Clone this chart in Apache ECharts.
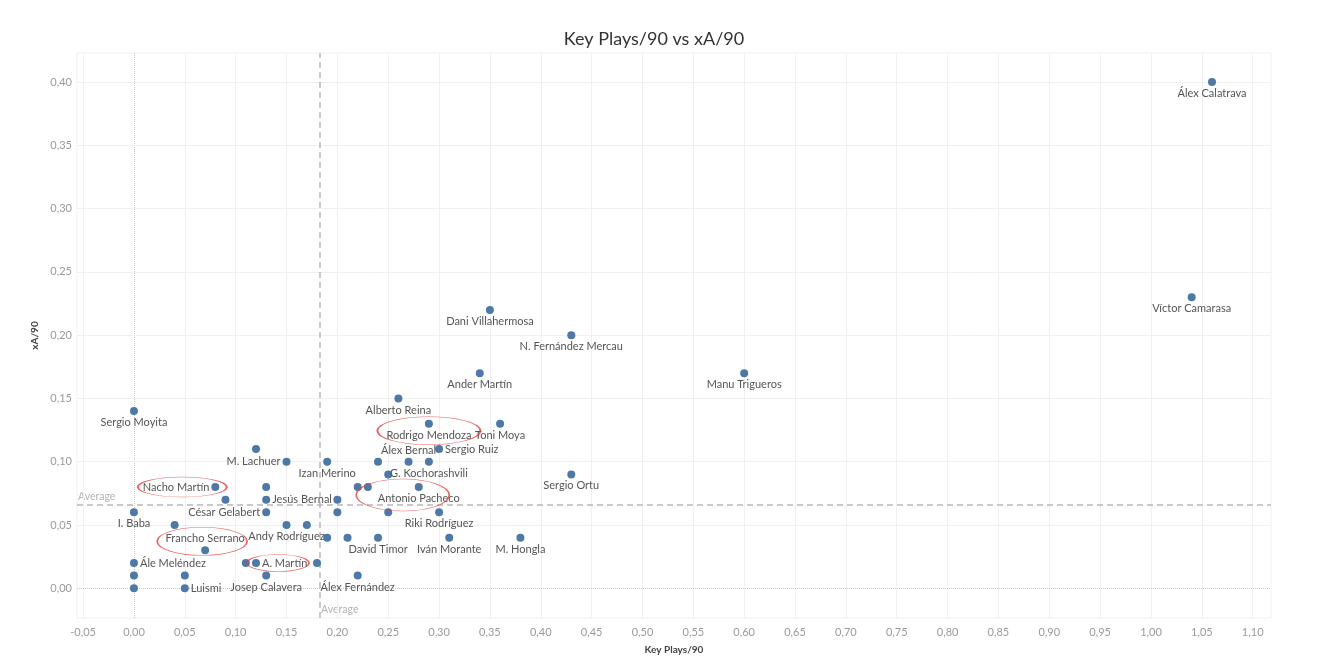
<!DOCTYPE html>
<html><head><meta charset="utf-8">
<script src="https://cdn.jsdelivr.net/npm/echarts@6/dist/echarts.min.js"></script>
<style>html,body{margin:0;padding:0;background:#fff}#c{width:1326px;height:662px}</style>
</head><body><div id="c"></div>
<script>
// ---------- DATA ----------
const players = [
  'Álex Calatrava','Víctor Camarasa','Dani Villahermosa','N. Fernández Mercau','Ander Martín',
  'Manu Trigueros','Alberto Reina','Sergio Moyita','Rodrigo Mendoza','Toni Moya',
  'Sergio Ruiz','','M. Lachuer','Izan Merino','',
  'Álex Bernal','G. Kochorashvili','','Sergio Ortu','Nacho Martín',
  '','','','Antonio Pacheco','',
  'Jesús Bernal','','I. Baba','César Gelabert','',
  '','Riki Rodríguez','','Andy Rodríguez','',
  'Francho Serrano','','','David Timor','Iván Morante',
  'M. Hongla','Ále Meléndez','','A. Martín','',
  '','','Josep Calavera','Álex Fernández','',
  'Luismi'
];
const keyPlays90 = [
  1.06, 1.04, 0.35, 0.43, 0.34,
  0.60, 0.26, 0.00, 0.29, 0.36,
  0.30, 0.12, 0.15, 0.19, 0.24,
  0.27, 0.29, 0.25, 0.43, 0.08,
  0.13, 0.22, 0.23, 0.28, 0.09,
  0.13, 0.20, 0.00, 0.13, 0.20,
  0.25, 0.30, 0.04, 0.15, 0.17,
  0.07, 0.19, 0.21, 0.24, 0.31,
  0.38, 0.00, 0.11, 0.12, 0.18,
  0.00, 0.05, 0.13, 0.22, 0.00,
  0.05
];
const xA90 = [
  0.40, 0.23, 0.22, 0.20, 0.17,
  0.17, 0.15, 0.14, 0.13, 0.13,
  0.11, 0.11, 0.10, 0.10, 0.10,
  0.10, 0.10, 0.09, 0.09, 0.08,
  0.08, 0.08, 0.08, 0.08, 0.07,
  0.07, 0.07, 0.06, 0.06, 0.06,
  0.06, 0.06, 0.05, 0.05, 0.05,
  0.03, 0.04, 0.04, 0.04, 0.04,
  0.04, 0.02, 0.02, 0.02, 0.02,
  0.01, 0.01, 0.01, 0.01, 0.00,
  0.00
];
const xTicks = [-0.05, 0.00, 0.05, 0.10, 0.15, 0.20, 0.25, 0.30, 0.35, 0.40, 0.45, 0.50,
  0.55, 0.60, 0.65, 0.70, 0.75, 0.80, 0.85, 0.90, 0.95, 1.00, 1.05, 1.10];
const yTicks = [0.00, 0.05, 0.10, 0.15, 0.20, 0.25, 0.30, 0.35, 0.40];
const avgKeyPlays90 = 0.183;
const avgXA90 = 0.066;
const highlighted = ['Nacho Martín', 'Francho Serrano', 'A. Martín', 'Rodrigo Mendoza', 'Antonio Pacheco'];

// ---------- STYLE ----------
const X_MIN = -0.056, X_MAX = 1.118, Y_MIN = -0.0235, Y_MAX = 0.423;
const FONT = 'Lato';
const labelPlace = {
  'Sergio Ruiz': {position: 'right'}, 'Ále Meléndez': {position: 'right'},
  'A. Martín': {position: 'right'}, 'Luismi': {position: 'right'},
  'Jesús Bernal': {position: 'right'},
  'M. Lachuer': {position: 'left'}, 'César Gelabert': {position: 'left'},
  'Nacho Martín': {position: 'left'},
  'Álex Bernal': {position: 'top'}, 'Francho Serrano': {position: 'top'},
  'Antonio Pacheco': {position: 'bottom', offset: [-13, 0]},
  'G. Kochorashvili': {position: 'bottom', offset: [16, 0]}
};
const ellipseStyle = {
  'Nacho Martín': {size: [89, 20], offset: [-33, 0]},
  'Francho Serrano': {size: [90, 28], offset: [-3, -9]},
  'A. Martín': {size: [62, 17], offset: [22, 0]},
  'Rodrigo Mendoza': {size: [103, 28], offset: [0, 7]},
  'Antonio Pacheco': {size: [93, 32], offset: [-16, 8]}
};
const fmt = v => v.toFixed(2).replace('.', ',');

const pointData = players.map((n, i) => {
  const p = labelPlace[n] || {position: 'bottom'};
  return {
    name: n,
    value: [keyPlays90[i], xA90[i]],
    label: {show: n !== '', position: p.position, offset: p.offset || [0, 0], distance: 2}
  };
});

const ellipseData = highlighted.map(n => {
  const i = players.indexOf(n);
  const s = ellipseStyle[n];
  return {value: [keyPlays90[i], xA90[i]], symbolSize: s.size, symbolOffset: s.offset};
});

const gridLines = [];
xTicks.forEach(v => gridLines.push(v === 0
  ? {xAxis: v, lineStyle: {type: 'dotted', color: '#c8c8c8', width: 1}}
  : {xAxis: v}));
yTicks.forEach(v => gridLines.push(v === 0
  ? {yAxis: v, lineStyle: {type: 'dotted', color: '#c8c8c8', width: 1}}
  : {yAxis: v}));

const chart = echarts.init(document.getElementById('c'), null, {renderer: 'canvas'});
chart.setOption({
  animation: false,
  backgroundColor: '#fff',
  textStyle: {fontFamily: FONT},
  title: {
    text: 'Key Plays/90 vs xA/90', left: 649, top: 25, textAlign: 'center',
    textStyle: {fontFamily: FONT, fontSize: 18, fontWeight: 'normal', color: '#333'}
  },
  grid: {left: 77, right: 55, top: 53, bottom: 44, show: true, borderColor: '#f0f0f0', borderWidth: 1},
  xAxis: {
    type: 'value', min: X_MIN, max: X_MAX,
    name: 'Key Plays/90', nameLocation: 'middle', nameGap: 27,
    nameTextStyle: {fontFamily: FONT, fontSize: 10, fontWeight: 'bold', color: '#444'},
    axisLine: {show: false}, axisTick: {show: false, customValues: xTicks}, splitLine: {show: false},
    axisLabel: {customValues: xTicks, formatter: fmt, color: '#9a9a9a', fontSize: 11, margin: 9, fontFamily: FONT}
  },
  yAxis: {
    type: 'value', min: Y_MIN, max: Y_MAX,
    name: 'xA/90', nameLocation: 'middle', nameGap: 32,
    nameTextStyle: {fontFamily: FONT, fontSize: 10, fontWeight: 'bold', color: '#444'},
    axisLine: {show: false}, axisTick: {show: false, customValues: yTicks}, splitLine: {show: false},
    axisLabel: {customValues: yTicks, formatter: fmt, color: '#9a9a9a', fontSize: 11, margin: 5, fontFamily: FONT}
  },
  series: [
    {
      type: 'line', data: [], silent: true, z: 1,
      markLine: {
        silent: true, symbol: ['none', 'none'], label: {show: false}, precision: 4,
        lineStyle: {color: '#f0f0f0', width: 1, type: 'solid'},
        data: gridLines
      }
    },
    {
      type: 'line', data: [], silent: true, z: 2,
      markLine: {
        silent: true, symbol: ['none', 'none'], label: {show: false}, precision: 4,
        lineStyle: {color: '#b8b8b8', width: 1.5, type: [6, 4]},
        data: [{xAxis: avgKeyPlays90}, {yAxis: avgXA90}]
      }
    },
    {
      type: 'scatter', z: 3, silent: true,
      data: [[X_MIN, avgXA90], [avgKeyPlays90, Y_MIN]],
      symbolSize: 0,
      label: {
        show: true, position: 'right', distance: 1, offset: [0, -8],
        formatter: 'Average', color: '#a0a0a0', fontSize: 10.5, fontFamily: FONT
      }
    },
    {
      type: 'scatter', z: 5, symbol: 'circle', symbolSize: 8,
      itemStyle: {color: '#4e79a7', opacity: 1},
      label: {color: '#555', fontSize: 11, fontFamily: FONT, formatter: p => p.name},
      labelLayout: {hideOverlap: false},
      emphasis: {disabled: true},
      data: pointData
    },
    {
      type: 'scatter', z: 6, symbol: 'circle', silent: true,
      itemStyle: {color: 'rgba(0,0,0,0)', borderColor: '#e0403c', borderWidth: 1},
      emphasis: {disabled: true},
      data: ellipseData
    }
  ]
});
</script>
</body></html>
